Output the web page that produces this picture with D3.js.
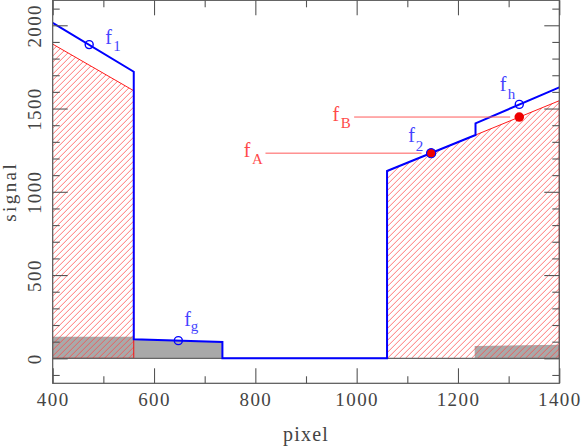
<!DOCTYPE html>
<html><head><meta charset="utf-8">
<script src="https://cdn.jsdelivr.net/npm/d3@7"></script>
<style>
html,body{margin:0;padding:0;background:#fff;}
svg{display:block;}
</style></head>
<body>
<script>
// ---- data ----
const xDomain = [400, 1400];
const yDomain = [-150, 2150];
const xMajorTicks = [400, 600, 800, 1000, 1200, 1400];
const xMinorTicks = [500, 700, 900, 1100, 1300];
const yMajorTicks = [0, 500, 1000, 1500, 2000];
const yMinorTicks = [-100, 100, 200, 300, 400, 600, 700, 800, 900, 1100, 1200, 1300, 1400, 1600, 1700, 1800, 1900, 2100];

// blue curve
const blueX = [400, 560, 560, 735, 735, 1060, 1060, 1234.6, 1234.6, 1400];
const blueY = [2015, 1721, 114, 98, 0, 0, 1125, 1341, 1411, 1627];

// red hatched regions
const hatchLeftX = [400, 560, 560, 400];
const hatchLeftY = [1887, 1607, 0, 0];
const hatchRightX = [1060, 1060, 1234.6, 1400, 1400];
const hatchRightY = [0, 1125, 1341, 1547, 0];

// gray filled regions
const grayLeftX = [400, 560, 560, 735, 735, 400];
const grayLeftY = [130, 130, 114, 98, 0, 0];
const grayRightX = [1233, 1233, 1400, 1400];
const grayRightY = [0, 74, 82, 0];

// marked points
const openNames = ["f", "f", "f"];
const openSubs = ["1", "g", "h"];
const openX = [472, 648, 1321];
const openY = [1884, 106, 1525];

const f2X = 1147, f2Y = 1232;
const fBX = 1321, fBY = 1449;

// reference lines (level, start, end)
const refNames = ["A", "B"];
const refLevel = [1232, 1449];
const refStart = [820, 995];
const refEnd = [1128, 1303];

// ---- drawing ----
const W = 581, H = 446;
const svg = d3.select("body").append("svg").attr("width", W).attr("height", H);
const x = d3.scaleLinear().domain(xDomain).range([52.7, 559.3]);
const y = d3.scaleLinear().domain(yDomain).range([383.3, 0.3]);

const BLUE = "#0000ff", BLUE_T = "#4444ff", RED = "#ff0000", RED_T = "#ff4a4a", GRAY = "#555";
const FONT = "'Liberation Serif', 'Times New Roman', serif";
const HATCH_STEP = 6;

const defs = svg.append("defs");
const zip = (xs, ys) => xs.map((v, i) => [v, ys[i]]);
const line = d3.line().x(d => x(d[0])).y(d => y(d[1]));

const clip = defs.append("clipPath").attr("id", "plotclip");
clip.append("rect").attr("x", x(400)).attr("y", y(2150)).attr("width", x(1400) - x(400)).attr("height", y(-150) - y(2150));
const plot = svg.append("g").attr("clip-path", "url(#plotclip)");

// gray
[zip(grayLeftX, grayLeftY), zip(grayRightX, grayRightY)].forEach(p => {
  plot.append("path").attr("d", line(p) + "Z").attr("fill", "#a9a9a9");
});
// hatch
[zip(hatchLeftX, hatchLeftY), zip(hatchRightX, hatchRightY)].forEach((p, k) => {
  const id = "hclip" + k;
  defs.append("clipPath").attr("id", id).append("path").attr("d", line(p) + "Z");
  const x0 = d3.min(p, d => x(d[0])), x1 = d3.max(p, d => x(d[0]));
  const top = d3.min(p, d => y(d[1])), bot = d3.max(p, d => y(d[1]));
  const h = bot - top;
  const starts = d3.range(x0 - h - HATCH_STEP, x1 + HATCH_STEP, HATCH_STEP);
  const hg = plot.append("g").attr("clip-path", `url(#${id})`);
  hg.selectAll("line").data(starts).join("line")
    .attr("x1", d => d).attr("y1", bot).attr("x2", d => d + h).attr("y2", top)
    .attr("stroke", "#ff4848").attr("stroke-width", 0.75);
  plot.append("path").attr("d", line(p)).attr("fill", "none")
    .attr("stroke", RED).attr("stroke-width", 0.9);
});
// zero line
plot.append("line").attr("x1", x(400)).attr("x2", x(1400)).attr("y1", y(0)).attr("y2", y(0))
  .attr("stroke", "#666").attr("stroke-width", 1.2);
// blue
plot.append("path").attr("d", line(zip(blueX, blueY))).attr("fill", "none")
  .attr("stroke", BLUE).attr("stroke-width", 2).attr("stroke-linejoin", "miter");

// axes
const tickStyle = g => { g.select(".domain").remove(); g.selectAll("line").attr("stroke", GRAY).attr("stroke-width", 1.1); };
const labelStyle = g => g.selectAll("text").attr("fill", "#444").style("font-family", FONT)
  .style("font-size", "19px").style("letter-spacing", "1.4px");

svg.append("g").attr("transform", `translate(0,${y(-150)})`)
  .call(d3.axisBottom(x).tickValues(xMinorTicks).tickSize(-7).tickFormat("")).call(tickStyle);
svg.append("g").attr("transform", `translate(0,${y(-150)})`)
  .call(d3.axisBottom(x).tickValues(xMajorTicks).tickSize(-15).tickPadding(9).tickFormat(d3.format("d")))
  .call(tickStyle).call(labelStyle);
svg.append("g").attr("transform", `translate(0,${y(2150)})`)
  .call(d3.axisTop(x).tickValues(xMinorTicks).tickSize(-7).tickFormat("")).call(tickStyle);
svg.append("g").attr("transform", `translate(0,${y(2150)})`)
  .call(d3.axisTop(x).tickValues(xMajorTicks).tickSize(-15).tickFormat("")).call(tickStyle);

svg.append("g").attr("transform", `translate(${x(400)},0)`)
  .call(d3.axisLeft(y).tickValues(yMinorTicks).tickSize(-7).tickFormat("")).call(tickStyle);
const yl = svg.append("g").attr("transform", `translate(${x(400)},0)`)
  .call(d3.axisLeft(y).tickValues(yMajorTicks).tickSize(-15).tickFormat(d3.format("d")))
  .call(tickStyle).call(labelStyle);
yl.selectAll("text").attr("x", 0).attr("dy", 0).attr("text-anchor", "middle")
  .attr("transform", "translate(-12,0) rotate(-90)");
svg.append("g").attr("transform", `translate(${x(1400)},0)`)
  .call(d3.axisRight(y).tickValues(yMinorTicks).tickSize(-7).tickFormat("")).call(tickStyle);
svg.append("g").attr("transform", `translate(${x(1400)},0)`)
  .call(d3.axisRight(y).tickValues(yMajorTicks).tickSize(-15).tickFormat("")).call(tickStyle);

// frame
svg.append("rect").attr("x", x(400)).attr("y", y(2150)).attr("width", x(1400) - x(400))
  .attr("height", y(-150) - y(2150)).attr("fill", "none").attr("stroke", GRAY).attr("stroke-width", 1.2);

// axis titles
svg.append("text").attr("x", (x(400) + x(1400)) / 2).attr("y", 441).attr("text-anchor", "middle")
  .attr("fill", "#444").style("font-family", FONT).style("font-size", "20px").style("letter-spacing", "1.2px").text("pixel");
svg.append("text").attr("transform", `translate(15.5,${(y(-150) + y(2150)) / 2}) rotate(-90)`).attr("text-anchor", "middle")
  .attr("fill", "#444").style("font-family", FONT).style("font-size", "19px").style("letter-spacing", "2.4px").text("signal");

// reference lines
refNames.forEach((n, i) => {
  svg.append("line").attr("x1", x(refStart[i])).attr("x2", x(refEnd[i]))
    .attr("y1", y(refLevel[i])).attr("y2", y(refLevel[i])).attr("stroke", "#ff5a5a").attr("stroke-width", 1);
});

// points
openX.forEach((v, i) => {
  svg.append("circle").attr("cx", x(v)).attr("cy", y(openY[i])).attr("r", 4)
    .attr("fill", "none").attr("stroke", BLUE).attr("stroke-width", 1.4);
});
svg.append("circle").attr("cx", x(f2X)).attr("cy", y(f2Y)).attr("r", 4.6)
  .attr("fill", "#ee0000").attr("stroke", BLUE).attr("stroke-width", 1.2);
svg.append("circle").attr("cx", x(fBX)).attr("cy", y(fBY)).attr("r", 4.8).attr("fill", "#ee0000");

// labels
function sublabel(px, py, main, sub, dxm, dym, dxs, dys, color) {
  const g = svg.append("g").attr("fill", color).style("font-family", FONT);
  g.append("text").attr("x", px + dxm).attr("y", py + dym).style("font-size", "20px").text(main);
  g.append("text").attr("x", px + dxs).attr("y", py + dys).style("font-size", "15px").text(sub);
}
const openOffsets = [[16, -1, 24, 6], [6, -15, 12.5, -9.5], [-19.5, -13.5, -11.5, -5]];
openX.forEach((v, i) => {
  const o = openOffsets[i];
  sublabel(x(v), y(openY[i]), openNames[i], openSubs[i], o[0], o[1], o[2], o[3], BLUE_T);
});
sublabel(x(f2X), y(f2Y), "f", "2", -23, -11.5, -15.5, -2.5, BLUE_T);
refNames.forEach((n, i) => {
  sublabel(x(refStart[i]), y(refLevel[i]), "f", n, -21.7, 3.8, -13.5, 11, RED_T);
});
</script>
</body></html>
